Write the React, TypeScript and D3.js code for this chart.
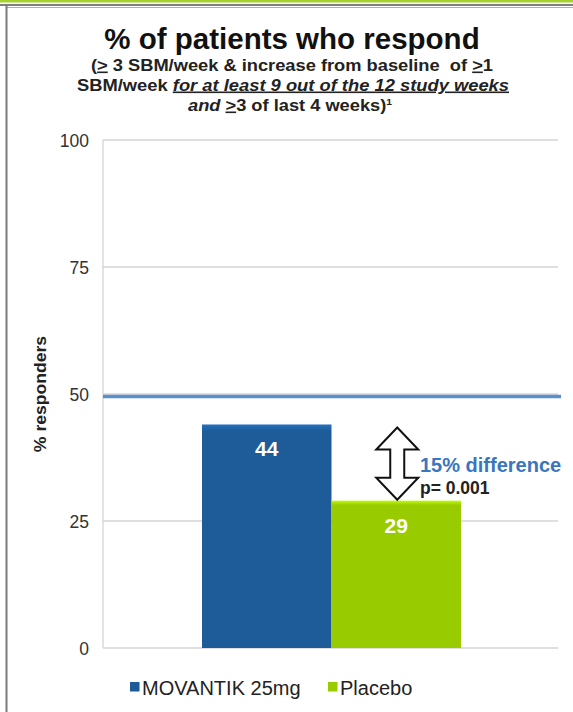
import React from 'react';
import * as d3 from 'd3';

const groups = ['MOVANTIK 25mg', 'Placebo'];
const responders = [44, 29];
const barColors = ['#1d5b99', '#99cc00'];
const yTicks = [0, 25, 50, 75, 100];
const referenceLine = 50;

const W = 573;
const H = 712;

const App = () => {
  const y = d3.scaleLinear().domain([0, 100]).range([648, 140]);
  const x = d3.scaleBand().domain(groups).range([202, 461]).padding(0);
  const plotLeft = 103;
  const plotRight = 558;
  const font = 'Arial, "Liberation Sans", Helvetica, sans-serif';

  // hollow double arrow between the two bar tops
  const ax = x(groups[1])! + x.bandwidth() / 2 + 1;
  const aTop = y(responders[0]) + 3;
  const aBot = y(responders[1]) - 1;
  const hw = 21, sw = 7, hh = 22;
  const arrow = [
    [ax, aTop], [ax + hw, aTop + hh], [ax + sw, aTop + hh],
    [ax + sw, aBot - hh], [ax + hw, aBot - hh], [ax, aBot],
    [ax - hw, aBot - hh], [ax - sw, aBot - hh], [ax - sw, aTop + hh],
    [ax - hw, aTop + hh]
  ];
  const arrowPath = d3.line()(arrow as [number, number][]) + 'Z';

  return (
    <svg width={W} height={H} style={{ position: 'absolute', left: 0, top: 0, fontFamily: font }}>
      <defs>
        {barColors.map((c, i) => (
          <linearGradient key={i} id={'g' + i} x1="0" x2="0" y1="0" y2="1">
            <stop offset="0" stopColor={d3.color(c)!.brighter(0.6).toString()} />
            <stop offset="0.03" stopColor={c} />
            <stop offset="1" stopColor={c} />
          </linearGradient>
        ))}
      </defs>
      <rect width={W} height={H} fill="#fff" />
      {/* frame */}
      <rect x={0} y={0} width={W} height={2.5} fill="#a6d22e" />
      <line x1={0} x2={W} y1={5} y2={5} stroke="#808080" strokeWidth={2} />
      <line x1={6} x2={W} y1={7.5} y2={7.5} stroke="#b0b0b0" strokeWidth={1} />
      <line x1={6.5} x2={6.5} y1={5} y2={H} stroke="#7a7a7a" strokeWidth={2} />

      {/* titles */}
      <text x={292} y={49} textAnchor="middle" fontSize={29.5} fontWeight="bold" fill="#111">
        % of patients who respond
      </text>
      <g fontSize={16} fontWeight="bold" fill="#222" textAnchor="middle">
        <text x={292} y={70.5} textLength={402} lengthAdjust="spacingAndGlyphs">
          (<tspan textDecoration="underline">&gt;</tspan> 3 SBM/week &amp; increase from baseline{'\u00a0'} of <tspan textDecoration="underline">&gt;</tspan>1
        </text>
        <text x={293} y={90.5} textLength={432} lengthAdjust="spacingAndGlyphs">
          SBM/week <tspan fontStyle="italic" textDecoration="underline">for at least 9 out of the 12 study weeks</tspan>
        </text>
        <text x={290} y={110.5} textLength={204} lengthAdjust="spacingAndGlyphs">
          <tspan fontStyle="italic">and </tspan><tspan textDecoration="underline">&gt;</tspan>3 of last 4 weeks)<tspan fontSize={9} dy={-6}>1</tspan>
        </text>
      </g>

      {/* grid and ticks */}
      {yTicks.map(t => (
        <g key={t}>
          <line x1={plotLeft} x2={plotRight} y1={y(t)} y2={y(t)} stroke="#d4d4d4" strokeWidth={1.3} />
          <text x={89} y={y(t) + 6.5} textAnchor="end" fontSize={17.5} fill="#333">{t}</text>
        </g>
      ))}
      <line x1={plotLeft} x2={plotLeft} y1={y(100)} y2={y(0)} stroke="#d4d4d4" strokeWidth={1.3} />
      <text transform={`translate(46,${y(50)}) rotate(-90) scale(1.1,1)`} textAnchor="middle" fontSize={16} fontWeight="bold" fill="#222">
        % responders
      </text>

      {/* reference line */}
      <line x1={plotLeft} x2={561} y1={y(referenceLine) + 2.5} y2={y(referenceLine) + 2.5} stroke="#5b8fcc" strokeWidth={3.5} />

      {/* bars */}
      {groups.map((g, i) => (
        <g key={g}>
          <rect x={x(g)} y={y(responders[i])} width={x.bandwidth()} height={y(0) - y(responders[i])} fill={`url(#g${i})`} />
          <text x={x(g)! + x.bandwidth() / 2} y={y(responders[i]) + 32} textAnchor="middle" fontSize={21} fontWeight="bold" fill="#fff">
            {responders[i]}
          </text>
        </g>
      ))}

      {/* annotation */}
      <path d={arrowPath} fill="#fff" stroke="#111" strokeWidth={2} strokeLinejoin="miter" />
      <text x={420} y={472} fontSize={20} fontWeight="bold" fill="#3a76bd">15% difference</text>
      <text x={420} y={494} fontSize={17.5} fontWeight="bold" fill="#222">p= 0.001</text>

      {/* legend */}
      {groups.map((g, i) => {
        const lx = [130, 328][i];
        return (
          <g key={g}>
            <rect x={lx} y={682} width={9.5} height={9.5} fill={barColors[i]} />
            <text x={lx + 12} y={695} fontSize={20} fill="#222">{g}</text>
          </g>
        );
      })}
    </svg>
  );
};

export default App;
